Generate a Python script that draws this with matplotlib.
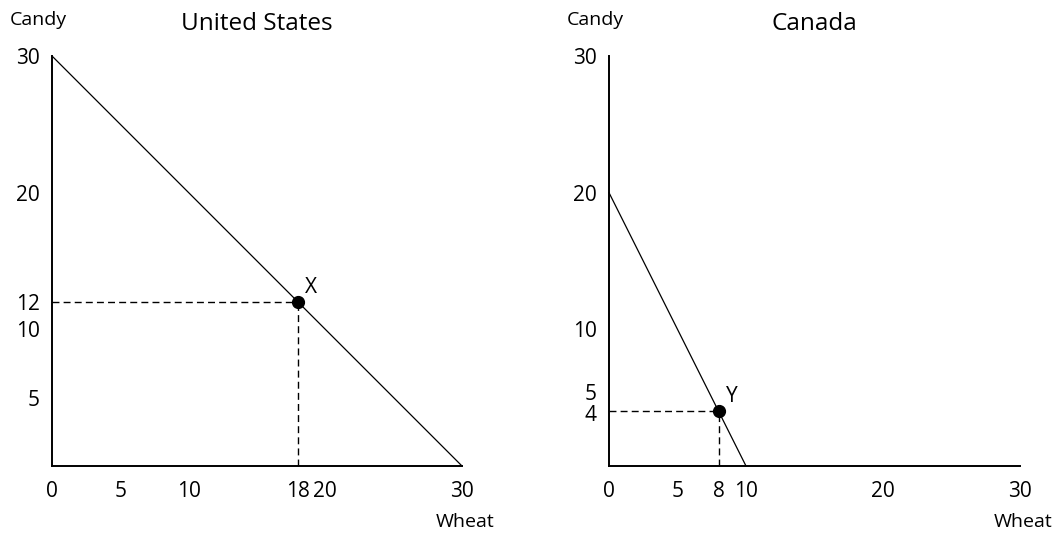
import matplotlib
matplotlib.use("Agg")
import matplotlib.pyplot as plt
import matplotlib.transforms as mtransforms

plt.rcParams["font.family"] = ["Open Sans", "DejaVu Sans"]

# United States production possibilities
us_wheat = [0, 30]
us_candy = [30, 0]
us_point = (18, 12)
us_xticks = [0, 5, 10, 18, 20, 30]
us_yticks = [5, 10, 12, 20, 30]

# Canada production possibilities
ca_wheat = [0, 10]
ca_candy = [20, 0]
ca_point = (8, 4)
ca_xticks = [0, 5, 8, 10, 20, 30]
ca_yticks = [4, 5, 10, 20, 30]

W, H = 1056, 533
fig = plt.figure(figsize=(W / 100, H / 100), dpi=100)


def px_axes(x0, x1, y0, y1):
    # pixel box -> figure fraction
    return fig.add_axes([x0 / W, 1 - y1 / H, (x1 - x0) / W, (y1 - y0) / H])


def draw_ppf(ax, wheat, candy, point, point_label, xticks, yticks, title):
    ax.plot(wheat, candy, color="black", lw=0.9, clip_on=False)
    px, py = point
    ax.plot([0, px], [py, py], color="black", lw=1.0, ls=(0, (5, 3)))
    ax.plot([px, px], [0, py], color="black", lw=1.0, ls=(0, (5, 3)))
    ax.plot(px, py, "o", color="black", ms=8.5, zorder=5)
    ax.annotate(point_label, (px, py), xytext=(5, 3), textcoords="offset points",
                fontsize=15, ha="left", va="bottom")

    ax.set_xlim(0, 30)
    ax.set_ylim(0, 30)
    ax.set_xticks(xticks)
    ax.set_yticks(yticks)
    ax.tick_params(length=0, labelsize=15, pad=9)
    ax.tick_params(axis="x", pad=11)
    for s in ["top", "right"]:
        ax.spines[s].set_visible(False)
    for s in ["left", "bottom"]:
        ax.spines[s].set_linewidth(1.4)

    ax.set_title(title, fontsize=17.5, pad=19)
    ax.text(-0.103, 1.087, "Candy", transform=ax.transAxes, fontsize=14,
            ha="left", va="center")
    ax.text(1.08, -0.137, "Wheat", transform=ax.transAxes, fontsize=14,
            ha="right", va="center")


ax1 = px_axes(52, 462, 56, 466)
draw_ppf(ax1, us_wheat, us_candy, us_point, "X", us_xticks, us_yticks,
         "United States")

ax2 = px_axes(609, 1020, 56, 466)
draw_ppf(ax2, ca_wheat, ca_candy, ca_point, "Y", ca_xticks, ca_yticks,
         "Canada")

# pull the crowded "5" and "4" labels on Canada's axis apart
shifts = {"5": 6, "4": -1.5}
for lab in ax2.get_yticklabels():
    dy = shifts.get(lab.get_text())
    if dy:
        lab.set_transform(lab.get_transform() +
                          mtransforms.ScaledTranslation(0, dy / 100, fig.dpi_scale_trans))

fig.savefig("out.png", dpi=100)
